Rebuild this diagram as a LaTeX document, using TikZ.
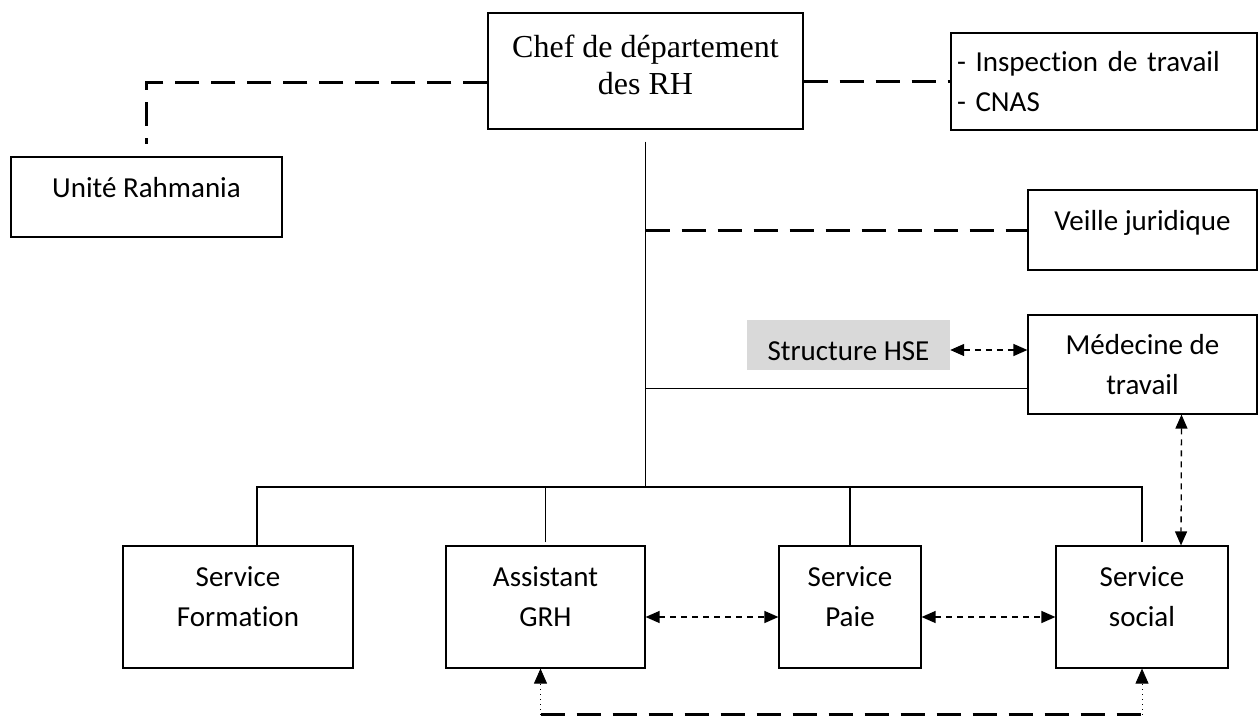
\documentclass[tikz,border=0pt]{standalone}
\usepackage{fontspec}
\setmainfont{Carlito}[Ligatures=NoCommon]
\newfontfamily\serifrm{Liberation Serif}
\usetikzlibrary{arrows.meta}

\begin{document}
\begin{tikzpicture}[x=1pt,y=-1pt,
  box/.style={draw, line width=1.2pt, inner sep=0pt},
  lbl/.style={align=center, inner sep=0pt, font=\fontsize{29}{40}\selectfont},
  bigdash/.style={line width=3pt, dash pattern=on 24pt off 12pt},
  tree/.style={line width=1.3pt},
  link/.style={line width=1.3pt, dash pattern=on 6pt off 5pt,
    {Triangle[length=14pt,width=12pt]}-{Triangle[length=14pt,width=12pt]}},
  dotlink/.style={line width=0.8pt, dash pattern=on 1pt off 4pt,
    -{Triangle[length=15pt,width=13pt]}},
]
\useasboundingbox (0,0) rectangle (1259,717);

% head of the department
\node[box, minimum width=315pt, minimum height=116pt,
  label={[lbl, yshift=6pt, font=\serifrm\fontsize{32}{37}\selectfont]center:{Chef de département\\des RH}}]
  (chef) at (645.5,71) {};

% external partners
\node[box, minimum width=271pt, minimum height=80pt,
  label={[lbl, yshift=9pt]center:{Unité Rahmania}}] (unite) at (146.5,197) {};
\node[box, minimum width=306pt, minimum height=97pt,
  label={[lbl, align=left, text width=294pt]center:{- Inspection de travail\\- CNAS}}]
  (insp) at (1104,81.5) {};
\node[box, minimum width=229pt, minimum height=80pt,
  label={[lbl, yshift=7pt]center:{Veille juridique}}] (veille) at (1142.5,230) {};

% health and safety
\node[fill={rgb,255:red,217;green,217;blue,217}, inner sep=0pt,
  minimum width=203pt, minimum height=50pt,
  label={[lbl, yshift=-6pt]center:{Structure HSE}}] (hse) at (848.5,345) {};
\node[box, minimum width=229pt, minimum height=99pt,
  label={[lbl]center:{Médecine de\\travail}}] (med) at (1142.5,364.5) {};

% services
\node[box, minimum width=230pt, minimum height=122pt,
  label={[lbl, yshift=10pt]center:{Service\\Formation}}] (form) at (238,607) {};
\node[box, minimum width=199pt, minimum height=122pt,
  label={[lbl, yshift=10pt]center:{Assistant\\GRH}}] (asst) at (545.5,607) {};
\node[box, minimum width=142pt, minimum height=122pt,
  label={[lbl, yshift=10pt]center:{Service\\Paie}}] (paie) at (850,607) {};
\node[box, minimum width=172pt, minimum height=122pt,
  label={[lbl, yshift=10pt]center:{Service\\social}}] (social) at (1142,607) {};

% dashed links from the head
\draw[bigdash, shorten >=12pt] ([yshift=-12pt]chef.west) -| (unite.north);
\draw[bigdash] (chef.east |- insp.west) -- (insp.west);

% hierarchy
\coordinate (bus) at (645,487);
\draw[tree, shorten <=12pt] (chef.south) -- (chef.south |- bus);
\draw[tree] ([xshift=19pt]form.north) |- (bus -| social.north) -- ([yshift=3pt]social.north);
\draw[tree] ([yshift=3pt]asst.north) -- (asst.north |- bus);
\draw[tree] (paie.north) -- (paie.north |- bus);
\draw[bigdash] (veille.west -| chef.south) -- (veille.west);
\coordinate (medjoin) at ([yshift=-24pt]med.west);
\draw[tree] (medjoin -| chef.south) -- (medjoin);

% exchanges between units
\coordinate (h1) at ([yshift=-5pt]hse.east);
\draw[link] (h1) -- (h1 -| med.west);
\draw[link] ([xshift=39pt]med.south) -- ([xshift=39pt]social.north);
\coordinate (a1) at ([yshift=-10pt]asst.east);
\draw[link] (a1) -- (a1 -| paie.west);
\coordinate (p1) at ([yshift=-10pt]paie.east);
\draw[link] (p1) -- (p1 -| social.west);

% loop below the services
\coordinate (loopL) at ([xshift=-5pt,yshift=-46pt]asst.south);
\coordinate (loopR) at ([yshift=-46pt]social.south);
\draw[bigdash] (loopL) -- (loopR);
\draw[dotlink] (loopL) -- ([xshift=-5pt]asst.south);
\draw[dotlink] (loopR) -- (social.south);
\end{tikzpicture}
\end{document}
